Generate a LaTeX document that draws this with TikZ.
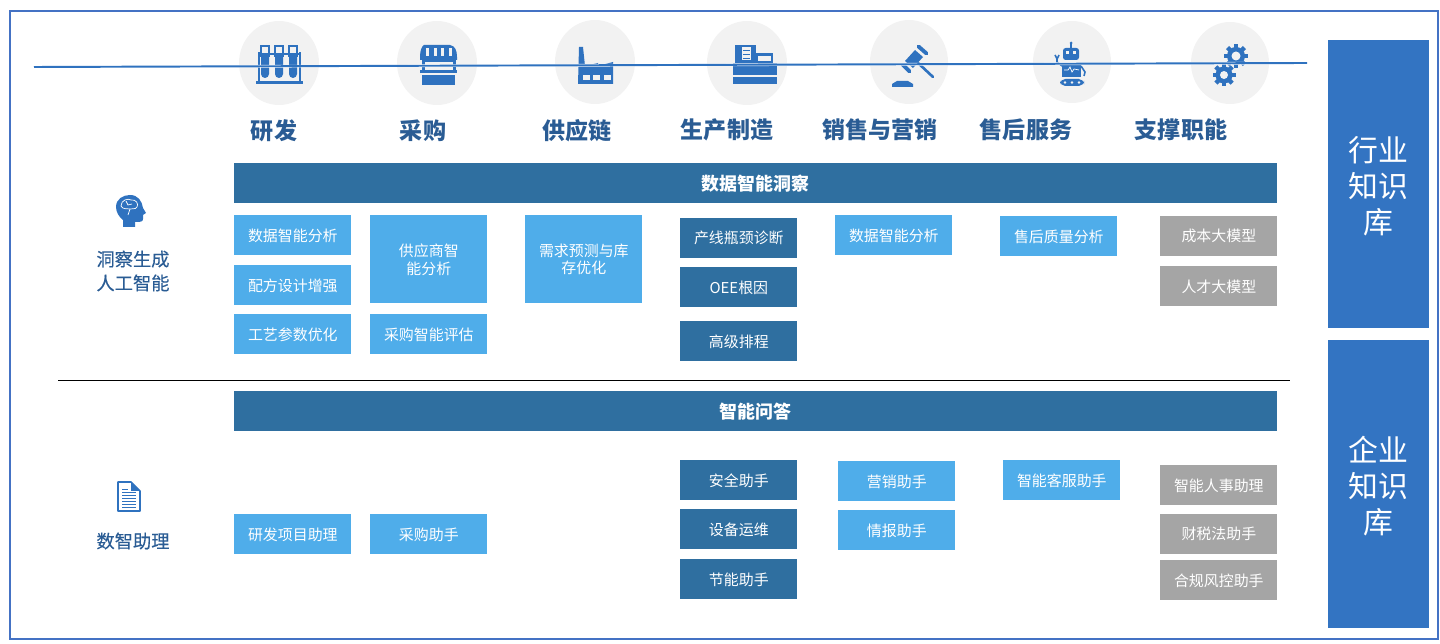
\documentclass[tikz,border=0pt]{standalone}
\usepackage{fontspec}
\setmainfont{Noto Sans CJK SC}
\newfontfamily\sidefont[FakeBold=0.3]{Noto Sans CJK SC}
\usepackage{xcolor}
\usetikzlibrary{arrows.meta}
\definecolor{framec}{HTML}{4472C4}
\definecolor{iconc}{HTML}{2F72BF}
\definecolor{labelc}{HTML}{2A5C94}
\definecolor{lightc}{HTML}{4FADEA}
\definecolor{darkc}{HTML}{2F6FA0}
\definecolor{greyc}{HTML}{A5A5A5}
\definecolor{kbc}{HTML}{3374C2}
\definecolor{discc}{HTML}{F2F2F2}

\begin{document}
\begin{tikzpicture}[
  x=0.02cm,y=-0.02cm,
  % boxes, placed by their top left corner
  box/.style={anchor=north west,minimum width=2.34cm,minimum height=0.8cm,inner sep=0pt,
    text=white,font=\fontsize{8.5pt}{10.2pt}\selectfont,align=center},
  lightbox/.style={box,fill=lightc},
  darkbox/.style={box,fill=darkc},
  greybox/.style={box,fill=greyc},
  tallbox/.style={lightbox,minimum height=1.76cm},
  headbar/.style={box,fill=darkc,minimum width=20.86cm,font=\fontsize{10.2pt}{12pt}\selectfont\bfseries},
  kbbox/.style={box,fill=kbc,minimum width=2.02cm,minimum height=5.76cm,
    font=\fontsize{17pt}{20.4pt}\selectfont},
  disc/.style={fill=discc},
  title/.style={text=labelc,font=\fontsize{13.1pt}{15pt}\selectfont\bfseries,inner sep=0pt},
  side/.style={text=labelc,font=\fontsize{10.4pt}{13.6pt}\selectfont\sidefont,align=center,inner sep=0pt},
  icon/.style={fill=iconc,draw=none},
  cut/.style={fill=discc,draw=none},
  wire/.style={draw=iconc,line width=0.5pt}
]
\useasboundingbox (0,0) rectangle (1440,644);

% outer frame
\draw[framec,line width=1.5pt] (10,11) rectangle (1438,639);

% discs
\fill[disc] (279,63) ellipse [x radius=40,y radius=42];
\fill[disc] (437,63) ellipse [x radius=40,y radius=42];
\fill[disc] (595,62) ellipse [x radius=40,y radius=42];
\fill[disc] (747,63) ellipse [x radius=40,y radius=42];
\fill[disc] (909,62) ellipse [x radius=39,y radius=42];
\fill[disc] (1072,62) ellipse [x radius=39,y radius=41];
\fill[disc] (1230,63) ellipse [x radius=39,y radius=41];

% tubes
\fill[icon] (256,81) rectangle (303,84);
\fill[icon] (258,52) rectangle (260,82);
\fill[icon] (299,52) rectangle (301,82);
\fill[icon] (258,53) rectangle (301,55);
\foreach \tx in {265,279,293}{
  \draw[iconc,line width=0.7pt] (\tx-4,46) rectangle (\tx+4,56);
  \fill[icon] (\tx-5,45) rectangle (\tx+5,47);
  \fill[icon] (\tx-4,54) -- (\tx+4,54) -- (\tx+4,74) arc [start angle=0,end angle=180,radius=4] -- cycle;
}

% shop
\fill[icon] (424,45) -- (450,45) .. controls (455,46) and (457,50) .. (457,57) -- (457,60) -- (420,60) -- (420,57) .. controls (420,50) and (422,46) .. (424,45) -- cycle;
\foreach \sx in {427,435,442,450}{
  \fill[cut] (\sx-1.5,48) rectangle (\sx+1.5,56);
}
\fill[icon] (422,60) rectangle (425,72);
\fill[icon] (453,60) rectangle (456,72);
\fill[icon] (422,60) rectangle (456,62);
\fill[icon] (420,70) rectangle (457,73);
\fill[icon] (422,75) rectangle (455,85);

% factory
\fill[icon] (579,47) -- (583,47) -- (585,66) -- (598,63) -- (598,66) -- (613,62) -- (613,84) -- (578,84) -- cycle;
\fill[cut] (583,75) rectangle (590,80);
\fill[cut] (593,75) rectangle (600,80);
\fill[cut] (604,75) rectangle (611,80);

% till
\fill[icon] (733,77) rectangle (777,84);
\fill[icon] (735,45) rectangle (756,63);
\fill[icon] (756,53) rectangle (773,63);
\fill[icon] (733,63) rectangle (777,75);
\fill[cut] (742,47) rectangle (751,60);
\foreach \ly in {50,54,58}{
  \fill[icon] (743,\ly) rectangle (750,\ly+1.5);
}
\fill[cut] (758,56) rectangle (771,61);

% gavel
\draw[iconc,line width=1.5pt,line cap=round] (917,62) -- (933,77);
\draw[iconc,line width=2.2pt,line cap=round] (918.5,46.5) -- (926.5,53.5);
\draw[iconc,line width=2.2pt,line cap=round] (902.5,64.5) -- (909.5,71.5);
\fill[icon] (915,50) -- (923,57) -- (913,68) -- (905,61) -- cycle;
\fill[icon] (892,87) -- (913,87) -- (913,84) -- (908,81) -- (897,81) -- (892,84) -- cycle;

% robot
\draw[iconc,line width=0.7pt] (1071,43) -- (1071,48);
\fill[icon] (1071,43) circle [radius=1.5];
\fill[icon,rounded corners=1.5pt] (1063,48) rectangle (1079,60);
\fill[cut] (1066,51) rectangle (1069,54);
\fill[cut] (1073,51) rectangle (1076,54);
\fill[icon] (1062,63) rectangle (1081,77);
\draw[white,line width=0.4pt] (1064,70) -- (1068,70) -- (1070,67) -- (1072,72) -- (1074,69) -- (1079,70);
\draw[iconc,line width=0.9pt] (1057,57) -- (1057,62) -- (1062,66);
\draw[iconc,line width=0.9pt] (1055,55) -- (1057,59) -- (1059,55);
\draw[iconc,line width=0.9pt] (1081,66) -- (1085,72) -- (1084,76);
\fill[icon,rounded corners=3pt] (1060,79) rectangle (1084,86);
\foreach \dx in {1065,1072,1079}{
  \fill[cut] (\dx,82.5) circle [radius=1.4];
}

% gears
\foreach \cx/\cy/\cr/\hr in {1236/56/9/4.5,1224/75/8.5/4}{
  \fill[icon] (\cx,\cy) circle [radius=\cr];
  \foreach \ga in {0,45,...,315}{
    \fill[icon,shift={(\cx,\cy)},rotate=\ga] (-2.2,-\cr-3) rectangle (2.2,-\cr+1);
  }
  \fill[cut] (\cx,\cy) circle [radius=\hr];
}

% head
\fill[icon] (123,227) -- (123,220) .. controls (119,217) and (116,212) .. (116,207)
  .. controls (116,199) and (123,195) .. (130,195) .. controls (138,195) and (142,201) .. (143,208)
  -- (146,213) -- (143,215) -- (143,219) .. controls (143,222) and (140,222) .. (135,222)
  -- (135,227) -- cycle;
\draw[white,line width=0.4pt] (121,206) .. controls (121,200) and (128,198) .. (131,200)
  .. controls (136,199) and (139,204) .. (137,207) .. controls (135,210) and (132,208) .. (130,209)
  -- (128,215);
\draw[white,line width=0.4pt] (121,206) .. controls (123,210) and (127,208) .. (130,209);
\draw[white,line width=0.4pt] (126,201) -- (128,205) -- (132,204);

% document
\draw[iconc,line width=0.9pt,line join=round] (118,482) -- (131,482) -- (140,491) -- (140,511) -- (118,511) -- cycle;
\fill[icon] (131,482) -- (131,491) -- (140,491) -- cycle;
\foreach \ly in {492,495,498,501,504,507}{
  \fill[icon] (122,\ly) rectangle (136,\ly+1.2);
}
\fill[icon] (122,489) rectangle (128,490);

% timeline
\coordinate (lineL) at (34,67);
\coordinate (lineR) at (1307,63);
\draw[white,line width=1.5pt] (lineL) -- (lineR);
\draw[iconc,line width=1.1pt] (lineL) -- (lineR);

% divider
\coordinate (divL) at (58,380);
\coordinate (divR) at (1290,380);
\draw[black,line width=0.5pt] (divL) -- (divR);

% titles
\node[title] (tA) at (274,131) {研发};
\node[title] (tB) at (423,131) {采购};
\node[title] (tC) at (577,131) {供应链};
\node[title] (tD) at (727,130) {生产制造};
\node[title] (tE) at (880,130) {销售与营销};
\node[title] (tF) at (1026,130) {售后服务};
\node[title] (tG) at (1181,130) {支撑职能};

% left labels
\node[side] (insight) at (133,271) {洞察生成\\人工智能};
\node[side] (helper) at (133,541) {数智助理};

% bars
\node[headbar] (barTop) at (234,163) {数据智能洞察};
\node[headbar] (barLow) at (234,391) {智能问答};

% upper rows
\node[lightbox] (u1) at (234,215) {数据智能分析};
\node[lightbox] (u2) at (234,265) {配方设计增强};
\node[lightbox] (u3) at (234,314) {工艺参数优化};
\node[tallbox] (u4) at (370,215) {供应商智\\能分析};
\node[lightbox] (u5) at (370,314) {采购智能评估};
\node[tallbox] (u6) at (525,215) {需求预测与库\\存优化};
\node[darkbox] (u7) at (680,218) {产线瓶颈诊断};
\node[darkbox] (u8) at (680,267) {OEE根因};
\node[darkbox] (u9) at (680,321) {高级排程};
\node[lightbox] (u10) at (835,215) {数据智能分析};
\node[lightbox] (u11) at (1000,216) {售后质量分析};
\node[greybox] (u12) at (1160,216) {成本大模型};
\node[greybox] (u13) at (1160,266) {人才大模型};

% lower rows
\node[lightbox] (d1) at (234,514) {研发项目助理};
\node[lightbox] (d2) at (370,514) {采购助手};
\node[darkbox] (d3) at (680,460) {安全助手};
\node[darkbox] (d4) at (680,509) {设备运维};
\node[darkbox] (d5) at (680,559) {节能助手};
\node[lightbox] (d6) at (838,461) {营销助手};
\node[lightbox] (d7) at (838,510) {情报助手};
\node[lightbox] (d8) at (1003,460) {智能客服助手};
\node[greybox] (d9) at (1160,465) {智能人事助理};
\node[greybox] (d10) at (1160,514) {财税法助手};
\node[greybox] (d11) at (1160,560) {合规风控助手};

% knowledge columns
\node[kbbox] (kbTop) at (1328,40) {};
\node[kbbox] (kbLow) at (1328,340) {};
\node[box,minimum width=2.02cm,font=\fontsize{17pt}{20.4pt}\selectfont,anchor=center] (kbTopText) at (1378,186) {行业\\知识\\库};
\node[box,minimum width=2.02cm,font=\fontsize{17pt}{20.4pt}\selectfont,anchor=center] (kbLowText) at (1378,486) {企业\\知识\\库};

\end{tikzpicture}
\end{document}
